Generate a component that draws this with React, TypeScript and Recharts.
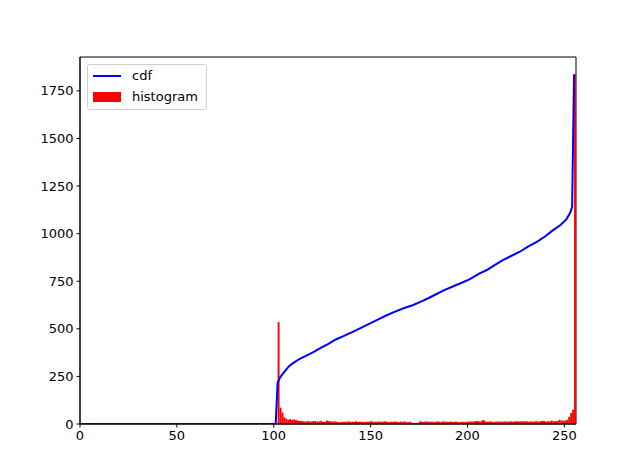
import { ComposedChart, Bar, Line, XAxis, YAxis, ReferenceArea } from 'recharts';

// histogram counts for bins 102..255 (bins 0..101 are empty)
const HIST_START = 102;
const hist = [
  535, 86, 60, 35, 28, 22, 26, 22, 24, 20,
  18, 16, 16, 14, 12, 16, 14, 13, 16, 15,
  12, 14, 16, 12, 12, 18, 15, 14, 12, 14,
  12, 10, 10, 12, 12, 11, 14, 12, 12, 12,
  14, 11, 12, 12, 10, 12, 12, 13, 15, 11,
  12, 12, 13, 12, 12, 14, 12, 10, 12, 11,
  13, 12, 10, 13, 11, 14, 10, 10, 12, 6,
  5, 5, 6, 14, 12, 10, 14, 12, 12, 12,
  12, 11, 14, 12, 11, 14, 12, 12, 11, 13,
  10, 12, 12, 10, 11, 12, 10, 12, 12, 14,
  12, 14, 16, 16, 12, 18, 20, 12, 12, 14,
  12, 11, 12, 14, 12, 12, 12, 14, 12, 13,
  14, 12, 14, 14, 14, 14, 14, 14, 15, 12,
  14, 12, 14, 15, 12, 14, 16, 16, 12, 14,
  14, 18, 14, 16, 16, 22, 18, 18, 18, 22,
  38, 58, 75, 1837,
];

// normalized cdf
const cdfX = [0, 101, 102, 103, 104, 106, 108, 110, 113, 116, 120, 124, 128, 132, 136, 141, 145, 150, 155, 158, 162, 167, 172, 176, 180, 184, 188, 193, 197, 201, 206, 210, 214, 218, 222, 227, 231, 236, 240, 244, 248, 251, 253, 254, 255];
const cdfY = [0, 0, 215, 240, 255, 280, 305, 320, 340, 355, 375, 398, 420, 444, 462, 485, 505, 530, 555, 570, 588, 608, 625, 643, 662, 683, 703, 725, 742, 760, 790, 809, 835, 860, 880, 905, 930, 958, 985, 1017, 1045, 1075, 1110, 1140, 1837];

const xTicks = [0, 50, 100, 150, 200, 250];
const yTicks = [0, 250, 500, 750, 1000, 1250, 1500, 1750];

const barData = hist.map((h, i) => ({ x: HIST_START + i + 0.5, h }));
const cdfData = cdfX.map((x, i) => ({ x, cdf: cdfY[i] }));

const font = 'DejaVu Sans, sans-serif';
// one bin in pixels: plot width / 256 bins
const BIN_PX = 496 / 256;

function BinBar(props: any) {
  const { x, y, width, height } = props;
  if (!height || height <= 0) return null;
  const cx = x + width / 2;
  return <rect x={cx - BIN_PX / 2} y={y} width={BIN_PX} height={height} fill="#ff0000" />;
}

function LegendBox() {
  return (
    <div
      style={{
        position: 'absolute',
        left: 87,
        top: 64,
        width: 118,
        height: 44,
        border: '1px solid #d0d0d0',
        borderRadius: 3,
        background: 'rgba(255,255,255,0.8)',
        fontFamily: font,
        fontSize: 13,
        color: '#000',
      }}
    >
      <div style={{ position: 'absolute', left: 5, top: 10, width: 28, height: 2, background: '#0000ff' }} />
      <div style={{ position: 'absolute', left: 44, top: 2, lineHeight: '18px' }}>cdf</div>
      <div style={{ position: 'absolute', left: 5, top: 27, width: 28, height: 10, background: '#ff0000' }} />
      <div style={{ position: 'absolute', left: 44, top: 23, lineHeight: '18px' }}>histogram</div>
    </div>
  );
}

export default function App() {
  return (
    <div style={{ position: 'absolute', left: 0, top: 0, width: 640, height: 476, background: '#fff' }}>
      <ComposedChart
        width={640}
        height={476}
        data={barData}
        margin={{ top: 57, right: 64, left: 0, bottom: 22 }}
        barCategoryGap={0}
        barGap={0}
      >
        <XAxis
          dataKey="x"
          type="number"
          domain={[0, 256]}
          ticks={xTicks}
          height={30}
          stroke="#000"
          tickSize={3.5}
          tickMargin={3}
          tick={{ fontSize: 13, fill: '#000', fontFamily: font }}
          allowDataOverflow
        />
        <YAxis
          type="number"
          domain={[0, 1928]}
          ticks={yTicks}
          width={80}
          stroke="#000"
          tickSize={3.5}
          tickMargin={3}
          tick={{ fontSize: 13, fill: '#000', fontFamily: font }}
          allowDataOverflow
        />
        <Bar dataKey="h" fill="#ff0000" shape={BinBar} isAnimationActive={false} />
        <Line
          data={cdfData}
          dataKey="cdf"
          type="linear"
          stroke="#0000ff"
          strokeWidth={2}
          dot={false}
          activeDot={false}
          isAnimationActive={false}
        />
        <ReferenceArea x1={0} x2={256} y1={0} y2={1928} fill="none" stroke="#000" strokeWidth={1} ifOverflow="visible" />
      </ComposedChart>
      <LegendBox />
    </div>
  );
}
